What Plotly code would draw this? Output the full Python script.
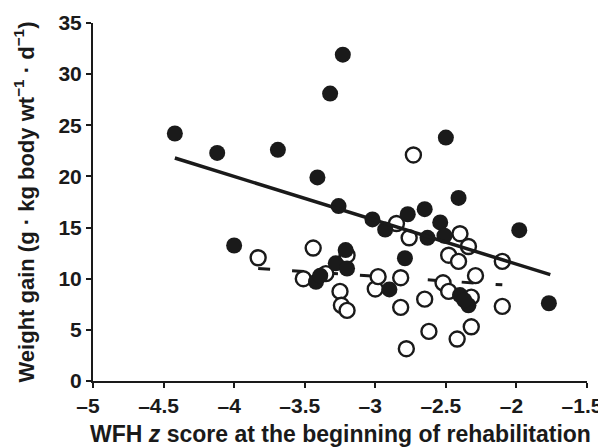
import plotly.graph_objects as go

# Filled circles (group 1)
filled_x = [-4.42, -4.12, -3.69, -4.00, -3.41, -3.32, -3.23, -3.26, -3.02, -2.93,
            -2.77, -2.65, -2.63, -2.79, -2.50, -2.54, -2.51, -2.41, -1.98, -1.77,
            -2.90, -3.42, -3.39, -3.28, -3.21, -3.20, -2.40, -2.34, -2.37]
filled_y = [24.2, 22.3, 22.6, 13.25, 19.9, 28.1, 31.9, 17.1, 15.8, 14.8,
            16.3, 16.8, 14.0, 12.0, 23.8, 15.5, 14.2, 17.9, 14.75, 7.6,
            8.95, 9.7, 10.3, 11.5, 12.8, 11.0, 8.4, 7.4, 7.9]

# Open circles (group 2)
open_x = [-3.83, -3.44, -3.51, -3.35, -3.20, -3.25, -3.24, -3.20, -3.00, -2.98,
          -2.85, -2.76, -2.73, -2.82, -2.82, -2.78, -2.65, -2.62, -2.52, -2.48,
          -2.48, -2.40, -2.41, -2.34, -2.29, -2.32, -2.32, -2.42, -2.10, -2.10]
open_y = [12.05, 13.0, 10.0, 10.5, 12.3, 8.76, 7.4, 6.9, 9.0, 10.2,
          15.4, 14.0, 22.1, 10.1, 7.2, 3.16, 8.0, 4.85, 9.6, 12.3,
          8.76, 14.4, 11.7, 13.15, 10.3, 8.2, 5.3, 4.1, 11.7, 7.3]

# Regression lines
fit_filled_x = [-4.42, -1.76]
fit_filled_y = [21.8, 10.4]
fit_open_x = [-3.83, -2.10]
fit_open_y = [11.0, 9.4]

x_ticks = [-5, -4.5, -4, -3.5, -3, -2.5, -2, -1.5]
x_tick_text = ["<b>–5</b>", "<b>–4.5</b>", "<b>–4</b>", "<b>–3.5</b>", "<b>–3</b>",
               "<b>–2.5</b>", "<b>–2</b>", "<b>–1.5</b>"]
y_ticks = [0, 5, 10, 15, 20, 25, 30, 35]
y_tick_text = ["<b>0</b>", "<b>5</b>", "<b>10</b>", "<b>15</b>", "<b>20</b>",
               "<b>25</b>", "<b>30</b>", "<b>35</b>"]
x_title = "<b>WFH <i>z</i> score at the beginning of rehabilitation</b>"
y_title = "<b>Weight gain (g · kg body wt<sup>−1</sup> · d<sup>−1</sup>)</b>"

ink = "#1a1a1a"
fig = go.Figure()
fig.add_trace(go.Scatter(x=fit_open_x, y=fit_open_y, mode="lines",
                         line=dict(color=ink, width=3, dash="12px,22px"),
                         showlegend=False))
fig.add_trace(go.Scatter(x=open_x, y=open_y, mode="markers",
                         marker=dict(size=15, color="white", symbol="circle",
                                     line=dict(color=ink, width=2.4)),
                         showlegend=False))
fig.add_trace(go.Scatter(x=filled_x, y=filled_y, mode="markers",
                         marker=dict(size=16, color=ink, symbol="circle",
                                     line=dict(width=0)),
                         showlegend=False))
fig.add_trace(go.Scatter(x=fit_filled_x, y=fit_filled_y, mode="lines",
                         line=dict(color=ink, width=3.5),
                         showlegend=False))

# The page body adds an 8px offset, so the figure is sized to fit the window.
fig.update_layout(
    width=598, height=439,
    margin=dict(l=85, r=19, t=15, b=66),
    paper_bgcolor="white", plot_bgcolor="white",
    font=dict(family="Arial", size=21, color=ink),
    xaxis=dict(range=[-5, -1.5], tickvals=x_ticks, ticktext=x_tick_text,
               automargin=False, ticklabeloverflow="allow", ticklabelshift=-5,
               showgrid=False, zeroline=False, showline=True, linecolor=ink,
               linewidth=2, ticks="outside", ticklen=5, tickwidth=2, tickcolor=ink,
               tickfont=dict(size=21, family="Arial", color=ink)),
    yaxis=dict(range=[0, 35], tickvals=y_ticks, ticktext=y_tick_text,
               automargin=False, ticklabeloverflow="allow",
               showgrid=False, zeroline=False, showline=True, linecolor=ink,
               linewidth=2, ticks="outside", ticklen=5, tickwidth=2, tickcolor=ink,
               tickfont=dict(size=21, family="Arial", color=ink),
               title=dict(text=y_title,
                          font=dict(size=22, family="Arial", color=ink), standoff=18)),
    annotations=[dict(text=x_title, xref="paper", yref="paper", x=0.5, y=-0.148,
                      xanchor="center", yanchor="middle", showarrow=False,
                      font=dict(size=23, family="Arial", color=ink))],
)

fig.write_html("out.html")
